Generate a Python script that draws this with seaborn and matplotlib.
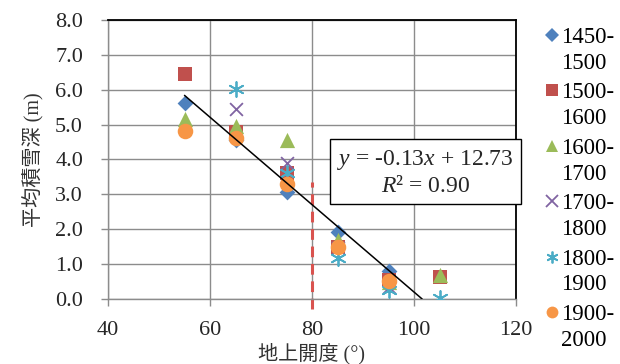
import numpy as np
import pandas as pd
import matplotlib
matplotlib.use("Agg")
import matplotlib.pyplot as plt
import seaborn as sns
from matplotlib.lines import Line2D

# ---- data ----
openness = [55, 65, 75, 85, 95, 105]
periods = ["1450-\n1500", "1500-\n1600", "1600-\n1700", "1700-\n1800", "1800-\n1900", "1900-\n2000"]
s1450 = [5.62, 4.55, 3.08, 1.93, 0.80, np.nan]
s1500 = [6.45, 4.80, 3.62, 1.50, 0.55, 0.63]
s1600 = [5.15, 4.96, 4.56, 1.70, 0.50, 0.69]
s1700 = [np.nan, 5.44, 3.89, 1.45, 0.35, np.nan]
s1800 = [np.nan, 6.02, 3.60, 1.17, 0.26, 0.02]
s1900 = [4.82, 4.63, 3.30, 1.48, 0.52, np.nan]
series = [s1450, s1500, s1600, s1700, s1800, s1900]
trend_slope = -0.1253
trend_intercept = 12.73
trend_x_start = 55
threshold_x = 80
threshold_top = 3.35
eq_text = "$y$ = -0.13$x$ + 12.73\n$R$² = 0.90"
xlabel = "地上開度 (°)"
ylabel = "平均積雪深 (m)"

colors = ["#4F81BD", "#C0504D", "#9BBB59", "#8064A2", "#4BACC6", "#F79646"]
markers = ["D", "s", "^", "x", (6, 2, 0), "o"]
sizes = [65, 115, 120, 85, 115, 125]

sns.set_style("white")
plt.rcParams["font.family"] = ["Liberation Serif", "Noto Sans CJK JP", "DejaVu Sans"]
plt.rcParams["mathtext.fontset"] = "custom"
plt.rcParams["mathtext.rm"] = "Liberation Serif"
plt.rcParams["mathtext.it"] = "Liberation Serif:italic"

W, H = 620, 364
fig = plt.figure(figsize=(6.2, 3.64), dpi=100)
ax = fig.add_axes([108 / W, 1 - 299 / H, (516 - 108) / W, (299 - 20) / H])

frames = []
for lab, vals in zip(periods, series):
    frames.append(pd.DataFrame({"x": openness, "y": vals, "period": lab}))
df = pd.concat(frames, ignore_index=True)

for lab, c, m, s in zip(periods, colors, markers, sizes):
    d = df[df["period"] == lab]
    mk = matplotlib.markers.MarkerStyle(m)
    sns.scatterplot(data=d, x="x", y="y", ax=ax, color=c, marker=m, s=s,
                    linewidth=0 if mk.is_filled() else 1.3, zorder=3, legend=False)

# trend line
x_end = -trend_intercept / trend_slope
xs = np.array([trend_x_start, x_end])
ax.plot(xs, trend_slope * xs + trend_intercept, color="black", lw=1.1, zorder=4)

# threshold dashed line
ax.plot([threshold_x, threshold_x], [-0.3, threshold_top], color="#D9534F", lw=2.2,
        ls=(0, (3.5, 2.2)), zorder=2, clip_on=False)

ax.set_xlim(40, 120)
ax.set_ylim(0, 8)
ax.set_xticks([40, 60, 80, 100, 120])
ax.set_yticks(np.arange(0, 8.1, 1.0))
ax.set_yticklabels([f"{v:.1f}" for v in np.arange(0, 8.1, 1.0)])
ax.grid(True, color="#8C8C8C", lw=1.0)
ax.set_axisbelow(True)

for side in ["left", "bottom"]:
    ax.spines[side].set_color("#8C8C8C")
    ax.spines[side].set_linewidth(1.0)
for side in ["top", "right"]:
    ax.spines[side].set_color("black")
    ax.spines[side].set_linewidth(1.3)
    ax.spines[side].set_visible(True)

ax.tick_params(axis="both", which="major", labelsize=16, color="#8C8C8C",
               direction="out", length=5, width=1.0)
ax.tick_params(axis="y", pad=13)
ax.tick_params(axis="x", pad=11)
ax.tick_params(left=True, bottom=True)

ax.set_xlabel(xlabel, fontsize=14.5, color="#333333", labelpad=2)
ax.set_ylabel(ylabel, fontsize=14.5, color="#333333", labelpad=8)

ax.text(102.3, 3.63, eq_text, ha="center", va="center", fontsize=17,
        linespacing=1.2, multialignment="center", zorder=6,
        bbox=dict(boxstyle="square,pad=0.3", facecolor="white", edgecolor="black", lw=1.0))

# legend (marker aligned with first text line, as in the original)
y0, step = 35, 55.4
for i, (lab, c, m) in enumerate(zip(periods, colors, markers)):
    mk = matplotlib.markers.MarkerStyle(m)
    yp = 1 - (y0 + step * i) / H
    fig.add_artist(Line2D([552 / W], [yp], transform=fig.transFigure, linestyle="none",
                          marker=m, color=c, markersize=8.5 if m != "D" else 7,
                          markeredgewidth=1.3 if not mk.is_filled() else 0))
    fig.text(561 / W, yp + 8 / H, lab, ha="left", va="top", fontsize=16.5,
             linespacing=1.3, color="black")

fig.savefig("out.png", dpi=100)
